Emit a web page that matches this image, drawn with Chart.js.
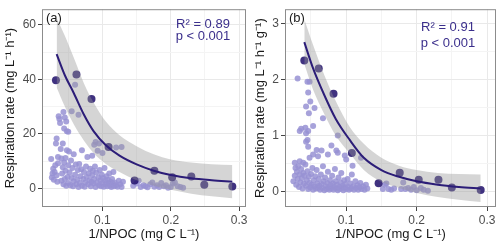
<!DOCTYPE html>
<html lang="en">
<head>
  <meta charset="UTF-8">
  <title>Respiration rate vs 1/NPOC</title>
  <script src="https://cdn.jsdelivr.net/npm/chart.js"></script>
  <style>
    body { margin: 0; background: #fff; }
    .wrap { position: relative; width: 500px; height: 248px; }
    canvas { position: absolute; top: 0; }
    #chartA { left: 0; }
    #chartB { left: 250px; }
  </style>
</head>
<body>
  <div class="wrap">
    <canvas id="chartA" width="250" height="248"></canvas>
    <canvas id="chartB" width="250" height="248"></canvas>
  </div>

  <script>
    // ---- panel (a): mg L-1 h-1 ----
    const lightA = [
      [0.025,10.8],[0.026,4.0],[0.027,5.5],[0.028,7.2],[0.029,3.2],[0.030,6.0],[0.031,8.5],[0.032,16.5],
      [0.033,18.3],[0.033,4.8],[0.034,2.5],[0.035,9.2],[0.035,11.5],[0.036,26.5],[0.037,25.5],[0.038,24.0],
      [0.039,14.5],[0.040,11.0],[0.040,2.8],[0.041,5.5],[0.042,16.5],[0.042,7.8],[0.043,28.0],[0.043,1.5],
      [0.044,22.0],[0.044,9.5],[0.045,26.0],[0.045,3.5],[0.046,11.2],[0.046,6.5],[0.047,24.5],[0.047,1.0],
      [0.048,21.0],[0.048,14.0],[0.049,4.2],[0.050,20.8],[0.050,8.5],[0.050,2.0],[0.051,13.5],[0.052,5.8],
      [0.053,1.2],[0.054,10.2],[0.055,28.3],[0.055,3.8],[0.056,7.5],[0.057,0.8],[0.058,12.5],[0.058,2.6],
      [0.060,38.0],[0.060,5.0],[0.061,8.8],[0.062,1.5],[0.063,3.2],[0.064,6.8],[0.065,27.0],[0.065,0.5],
      [0.066,9.0],[0.067,2.0],[0.068,4.5],[0.069,7.0],[0.070,14.0],[0.070,1.0],[0.072,3.5],[0.073,6.0],
      [0.074,0.6],[0.075,2.2],[0.076,8.0],[0.077,4.2],[0.078,11.5],[0.079,1.5],[0.080,5.5],[0.081,3.0],
      [0.082,7.2],[0.083,0.8],[0.084,2.5],[0.085,12.0],[0.085,4.8],[0.086,6.5],[0.087,1.8],[0.088,16.0],
      [0.088,3.5],[0.089,8.0],[0.090,17.0],[0.090,0.5],[0.091,5.8],[0.092,2.2],[0.093,13.8],[0.094,4.0],
      [0.095,16.5],[0.095,1.2],[0.096,6.8],[0.097,3.0],[0.098,0.8],[0.099,5.0],[0.100,2.0],[0.100,13.0],
      [0.101,3.8],[0.102,0.6],[0.103,7.5],[0.104,2.8],[0.105,1.5],[0.106,4.5],[0.107,0.8],[0.108,3.2],
      [0.109,2.0],[0.110,5.5],[0.111,1.0],[0.112,2.5],[0.113,0.5],[0.114,3.5],[0.115,1.8],[0.116,6.0],
      [0.117,0.8],[0.118,2.2],[0.120,1.2],[0.120,15.0],[0.122,0.6],[0.124,2.8],[0.126,1.5],[0.128,15.2],
      [0.128,0.5],[0.130,2.5],[0.145,1.0],[0.150,1.8],[0.153,2.8],[0.156,0.5],[0.160,1.2],[0.163,0.8],
      [0.166,0.4],[0.170,1.5],[0.173,2.2],[0.176,0.6],[0.180,1.2],[0.183,0.5],[0.186,2.0],[0.190,0.8],
      [0.193,1.2],[0.196,0.3],[0.200,0.5],[0.203,1.8],[0.206,2.2],[0.210,0.8],[0.214,0.5],[0.218,0.3]
    ];
    const darkA = [
      [0.032,39.7],[0.062,41.8],[0.084,32.8],[0.109,15.2],[0.147,2.9],
      [0.176,6.5],[0.202,4.1],[0.230,4.4],[0.249,1.4],[0.290,0.7]
    ];
    const fitXA = [0.033, 0.045, 0.058, 0.073, 0.087, 0.105, 0.125, 0.15, 0.175, 0.20, 0.23, 0.26, 0.29];
    const fitYA = [49.2, 41.5, 35, 27, 21, 15.8, 12, 8.8, 6.5, 4.9, 3.7, 3.0, 2.5];
    const upperA = [62.5, 56, 48, 38.5, 31.5, 24.5, 19.5, 15.5, 12.5, 10.6, 9.5, 8.9, 8.6];
    const lowerA = [37, 30, 23.5, 17.5, 13, 9, 6, 3, 1, -0.5, -1.9, -2.9, -3.6];
    const xTicksA = [0.05, 0.1, 0.15, 0.2, 0.25, 0.3];
    const xLabelsA = [0.1, 0.2, 0.3];
    const yTicksA = [0, 10, 20, 30, 40, 50, 60];
    const yLabelsA = [0, 20, 40, 60];

    // ---- panel (b): mg L-1 h-1 g-1 ----
    const lightB = [
      [0.031,2.02],[0.045,1.96],[0.048,1.96],[0.046,1.77],[0.049,1.61],[0.043,1.52],[0.055,1.49],[0.047,1.40],
      [0.067,1.31],[0.053,1.17],[0.036,1.12],[0.042,1.14],[0.046,1.08],[0.034,1.08],[0.043,1.04],[0.088,1.00],
      [0.045,0.92],[0.043,0.89],[0.046,0.80],[0.079,0.82],[0.086,0.73],[0.088,0.69],[0.058,0.74],[0.065,0.73],
      [0.074,0.66],[0.034,0.54],[0.027,0.51],[0.039,0.51],[0.053,0.66],[0.060,0.63],[0.048,0.60],[0.100,0.57],
      [0.098,0.64],[0.109,0.46],[0.121,0.60],
      [0.025,0.18],[0.027,0.28],[0.028,0.42],[0.029,0.12],[0.030,0.35],[0.031,0.22],[0.032,0.45],[0.033,0.08],
      [0.034,0.30],[0.035,0.16],[0.036,0.40],[0.037,0.24],[0.038,0.05],[0.039,0.33],[0.040,0.14],[0.041,0.28],
      [0.042,0.48],[0.043,0.10],[0.044,0.20],[0.045,0.36],[0.046,0.04],[0.047,0.26],[0.048,0.15],[0.049,0.07],
      [0.050,0.31],[0.051,0.12],[0.052,0.42],[0.053,0.03],[0.054,0.20],[0.055,0.09],[0.056,0.27],[0.057,0.05],
      [0.058,0.38],[0.059,0.14],[0.060,0.06],[0.061,0.22],[0.062,0.10],[0.063,0.03],[0.064,0.30],[0.065,0.13],
      [0.066,0.06],[0.067,0.45],[0.068,0.18],[0.069,0.02],[0.070,0.25],[0.071,0.09],[0.072,0.04],[0.073,0.15],
      [0.074,0.35],[0.075,0.07],[0.076,0.03],[0.077,0.20],[0.078,0.11],[0.079,0.05],[0.080,0.28],[0.081,0.14],
      [0.082,0.03],[0.083,0.08],[0.084,0.40],[0.085,0.18],[0.086,0.05],[0.087,0.12],[0.088,0.02],[0.089,0.25],
      [0.090,0.08],[0.091,0.04],[0.092,0.16],[0.093,0.33],[0.094,0.06],[0.095,0.10],[0.096,0.02],[0.097,0.20],
      [0.098,0.07],[0.099,0.13],[0.100,0.04],[0.102,0.22],[0.103,0.08],[0.104,0.03],[0.106,0.14],[0.107,0.05],
      [0.108,0.30],[0.110,0.09],[0.111,0.03],[0.113,0.18],[0.114,0.06],[0.116,0.11],[0.117,0.03],[0.119,0.07],
      [0.120,0.15],[0.122,0.04],[0.124,0.09],[0.126,0.03],[0.128,0.12],[0.130,0.05],
      [0.152,0.04],[0.155,0.12],[0.157,0.14],[0.160,0.04],[0.164,0.03],[0.168,0.05],[0.178,0.04],[0.181,0.16],
      [0.184,0.04],[0.188,0.06],[0.192,0.03],[0.196,0.08],[0.200,0.02],[0.206,0.06],[0.210,0.03],[0.216,0.01]
    ];
    const darkB = [
      [0.0405,2.34],[0.061,2.20],[0.082,1.745],[0.108,0.685],[0.146,0.147],
      [0.176,0.335],[0.203,0.206],[0.231,0.206],[0.250,0.07],[0.291,0.025]
    ];
    const fitXB = [0.0405, 0.053, 0.069, 0.085, 0.105, 0.125, 0.15, 0.175, 0.20, 0.23, 0.26, 0.291];
    const fitYB = [2.67, 2.2, 1.72, 1.3, 0.92, 0.6, 0.38, 0.26, 0.18, 0.12, 0.08, 0.05];
    const upperB = [3.08, 2.62, 2.08, 1.62, 1.15, 0.85, 0.6, 0.46, 0.38, 0.33, 0.31, 0.30];
    const lowerB = [2.28, 1.82, 1.38, 1.0, 0.68, 0.38, 0.17, 0.06, -0.03, -0.10, -0.15, -0.19];
    const xTicksB = [0.05, 0.1, 0.15, 0.2, 0.25, 0.3];
    const xLabelsB = [0.1, 0.2, 0.3];
    const yTicksB = [0, 0.5, 1, 1.5, 2, 2.5, 3];
    const yLabelsB = [0, 1, 2, 3];

    const FONT = "'Liberation Sans', Arial, sans-serif";
    const NAVY = '#2c1d78';

    // frame, panel tag and fit statistics
    const panelText = {
      id: 'panelText',
      afterDraw(chart, args, o) {
        const ctx = chart.ctx, a = chart.chartArea;
        ctx.save();
        ctx.strokeStyle = '#8c8c8c';
        ctx.lineWidth = 1;
        ctx.strokeRect(a.left + 0.5, a.top + 0.5, a.right - a.left - 1, a.bottom - a.top - 1);
        ctx.font = '13px ' + FONT;
        ctx.fillStyle = '#1a1a1a';
        ctx.textAlign = 'left';
        ctx.textBaseline = 'middle';
        ctx.fillText(o.tag, a.left + 4, a.top + 9);
        ctx.fillStyle = '#3b2f8c';
        ctx.textAlign = 'center';
        ctx.fillText(o.r2, a.right - o.dx, o.y1);
        ctx.fillText(o.p, a.right - o.dx, o.y2);
        ctx.restore();
      }
    };

    function pts(arr) { return arr.map(p => ({x: p[0], y: p[1]})); }
    function zip(xs, ys) { return xs.map((x, i) => ({x: x, y: ys[i]})); }

    function makePanel(id, c) {
      const isMajor = (list, v) => list.some(m => Math.abs(m - v) < 1e-9);
      return new Chart(document.getElementById(id), {
        type: 'scatter',
        data: {
          datasets: [
            { data: pts(c.light), order: 4, pointRadius: 3, borderWidth: 0,
              backgroundColor: 'rgba(152,146,212,0.85)' },
            { data: pts(c.dark), order: 3, pointRadius: 4, borderWidth: 0,
              backgroundColor: 'rgba(38,22,110,0.88)' },
            { type: 'line', data: zip(c.fitX, c.upper), order: 2, pointRadius: 0, borderWidth: 0,
              fill: '+1', backgroundColor: 'rgba(150,150,150,0.4)', cubicInterpolationMode: 'monotone' },
            { type: 'line', data: zip(c.fitX, c.lower), order: 2, pointRadius: 0, borderWidth: 0,
              fill: false, cubicInterpolationMode: 'monotone' },
            { type: 'line', data: zip(c.fitX, c.fitY), order: 1, pointRadius: 0, borderWidth: 2,
              borderColor: NAVY, fill: false, cubicInterpolationMode: 'monotone' }
          ]
        },
        options: {
          responsive: false,
          animation: false,
          layout: { padding: { top: 5, right: 2, left: 0, bottom: 0 } },
          plugins: {
            legend: { display: false },
            tooltip: { enabled: false },
            panelText: c.text
          },
          scales: {
            x: {
              type: 'linear', min: c.xMin, max: c.xMax,
              afterBuildTicks: s => { s.ticks = c.xTicks.map(v => ({value: v})); },
              afterFit: s => { s.height = 41; },
              ticks: { font: { family: FONT, size: 12 }, color: '#4d4d4d', padding: 2,
                       maxRotation: 0, autoSkip: false,
                       callback: v => isMajor(c.xLabels, v) ? String(v) : '' },
              grid: { color: ctx => isMajor(c.xLabels, ctx.tick.value) ? '#e9e9e9' : '#f4f4f4',
                      tickColor: ctx => isMajor(c.xLabels, ctx.tick.value) ? '#444' : 'rgba(0,0,0,0)',
                      tickLength: 4 },
              border: { display: false },
              title: { display: true, text: '1/NPOC (mg C L⁻¹)', color: '#1a1a1a',
                       font: { family: FONT, size: 13 }, padding: { top: 0, bottom: 6 } }
            },
            y: {
              min: c.yMin, max: c.yMax,
              afterBuildTicks: s => { s.ticks = c.yTicks.map(v => ({value: v})); },
              afterFit: s => { s.width = c.yWidth; },
              ticks: { font: { family: FONT, size: 12 }, color: '#4d4d4d', padding: 2, autoSkip: false,
                       callback: v => isMajor(c.yLabels, v) ? String(v) : '' },
              grid: { color: ctx => isMajor(c.yLabels, ctx.tick.value) ? '#e9e9e9' : '#f4f4f4',
                      tickColor: ctx => isMajor(c.yLabels, ctx.tick.value) ? '#444' : 'rgba(0,0,0,0)',
                      tickLength: 4 },
              border: { display: false },
              title: { display: true, text: c.yTitle, color: '#1a1a1a',
                       font: { family: FONT, size: 13 }, padding: { top: 3, bottom: 0 } }
            }
          }
        },
        plugins: [panelText]
      });
    }

    makePanel('chartA', {
      light: lightA, dark: darkA, fitX: fitXA, fitY: fitYA, upper: upperA, lower: lowerA,
      xTicks: xTicksA, xLabels: xLabelsA, yTicks: yTicksA, yLabels: yLabelsA,
      xMin: 0.0116, xMax: 0.310, yMin: -6.8, yMax: 65.7, yWidth: 42,
      yTitle: 'Respiration rate (mg L⁻¹ h⁻¹)',
      text: { tag: '(a)', r2: 'R² = 0.89', p: 'p < 0.001', dx: 43, y1: 24, y2: 36 }
    });

    makePanel('chartB', {
      light: lightB, dark: darkB, fitX: fitXB, fitY: fitYB, upper: upperB, lower: lowerB,
      xTicks: xTicksB, xLabels: xLabelsB, yTicks: yTicksB, yLabels: yLabelsB,
      xMin: 0.0131, xMax: 0.3127, yMin: -0.28, yMax: 3.26, yWidth: 35,
      yTitle: 'Respiration rate (mg L⁻¹ h⁻¹ g⁻¹)',
      text: { tag: '(b)', r2: 'R² = 0.91', p: 'p < 0.001', dx: 48, y1: 27, y2: 43 }
    });
  </script>
</body>
</html>
